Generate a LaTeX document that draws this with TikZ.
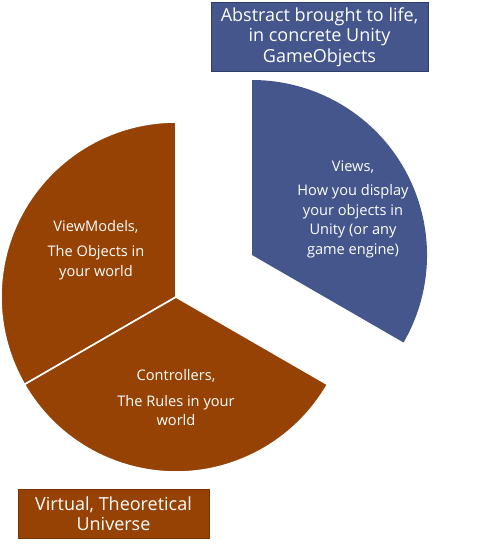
\documentclass[tikz,border=0pt]{standalone}
\usepackage{fontspec}
\setmainfont{Open Sans}
\definecolor{rust}{RGB}{151,66,5}
\definecolor{rustedge}{RGB}{120,52,6}
\definecolor{slate}{RGB}{68,86,140}
\definecolor{slateedge}{RGB}{45,60,105}

\begin{document}
\begin{tikzpicture}[x=1pt, y=1pt, every node/.style={text=white, align=center, font=\fontsize{14.6}{19.5}\selectfont},
	wedge/.style={fill=#1, draw=white, line width=1.6pt},
	tagbox/.style={fill=#1, draw=#1edge, line width=0.8pt, inner sep=0pt, font=\fontsize{18}{20.5}\selectfont}]
	\useasboundingbox (0,0) rectangle (480,547);
	\coordinate (vmc) at (176,250);
	\coordinate (vwc) at (252,292);
	% pie, views slice pulled out
	\draw[wedge=rust] (vmc) -- ++(90:175) arc[start angle=90, end angle=210, radius=175] -- cycle;
	\draw[wedge=rust] (vmc) -- ++(210:175) arc[start angle=210, end angle=330, radius=175] -- cycle;
	\fill[slate] (vwc) -- ++(-30:175) arc[start angle=-30, end angle=90, radius=175] -- cycle;
	\node (viewmodels) at (96,297) {ViewModels,\\[6pt]The Objects in\\your world};
	\node (controllers) at (176,149) {Controllers,\\[6pt]The Rules in your\\world};
	\node (views) at (353,338) {Views,\\[5pt]How you display\\your objects in\\Unity (or any\\game engine)};
	% legend boxes
	\node[tagbox=slate, minimum width=217, minimum height=69] (concrete) at (319.5,510) {Abstract brought to life,\\in concrete Unity\\GameObjects};
	\node[tagbox=rust, minimum width=191, minimum height=49] (virtual) at (113.5,33.5) {Virtual, Theoretical\\Universe};
\end{tikzpicture}
\end{document}
